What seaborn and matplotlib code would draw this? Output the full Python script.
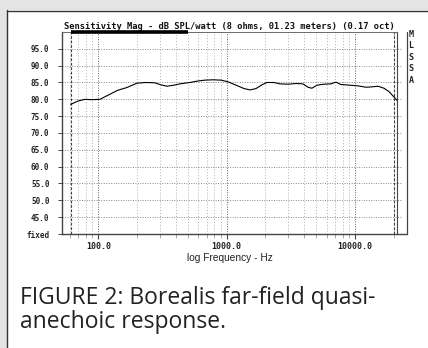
import matplotlib
matplotlib.use("Agg")
import matplotlib.pyplot as plt
from matplotlib.lines import Line2D
from matplotlib.patches import Rectangle
from matplotlib.ticker import FixedLocator, FixedFormatter, NullFormatter
import seaborn as sns
import pandas as pd

# ---- data ----
freq_hz = [61, 69.5, 79, 89, 103, 123, 142, 167, 200, 235, 276, 308, 343, 388, 432,
           517, 586, 677, 781, 906, 1026, 1184, 1366, 1520, 1693, 1880, 2057, 2333,
           2597, 2998, 3459, 3924, 4293, 4611, 5045, 5717, 6484, 7094, 7757, 9117,
           10520, 12142, 13530, 15070, 16780, 18350, 20080, 21180]
spl_db = [78.5, 79.5, 80.0, 79.9, 80.0, 81.5, 82.7, 83.5, 84.8, 85.0, 84.9, 84.3,
          83.9, 84.2, 84.6, 85.0, 85.4, 85.7, 85.8, 85.7, 85.2, 84.2, 83.2, 82.8,
          83.2, 84.3, 85.0, 85.0, 84.6, 84.5, 84.7, 84.6, 83.6, 83.3, 84.2, 84.5,
          84.6, 85.1, 84.4, 84.2, 84.0, 83.6, 83.7, 83.9, 83.3, 82.3, 80.7, 79.7]

y_ticks = [40, 45, 50, 55, 60, 65, 70, 75, 80, 85, 90, 95]
y_tick_labels = ["fixed", "45.0", "50.0", "55.0", "60.0", "65.0", "70.0", "75.0",
                 "80.0", "85.0", "90.0", "95.0"]
x_major = [100, 1000, 10000]
x_major_labels = ["100.0", "1000.0", "10000.0"]
x_minor = [60, 70, 80, 90, 200, 300, 400, 500, 600, 700, 800, 900,
           2000, 3000, 4000, 5000, 6000, 7000, 8000, 9000, 20000]
gate_lines_hz = [61, 20000]
gate_bar_hz = [61, 500]

title = "Sensitivity Mag - dB SPL/watt (8 ohms, 01.23 meters) (0.17 oct)"
xlabel = "log Frequency - Hz"
side_letters = "M\nL\nS\nS\nA"
caption = "FIGURE 2: Borealis far-field quasi-\nanechoic response."

df = pd.DataFrame({"freq": freq_hz, "spl": spl_db})

sns.set_theme(style="white")
plt.rcParams["font.family"] = ["DejaVu Sans Mono"]

W, H = 428, 348
fig = plt.figure(figsize=(W / 100, H / 100), dpi=100, facecolor="#e4e4e4")

def fx(px):
    return px / W

def fy(py):
    return 1 - py / H

# white panel with left/top border
fig.patches.append(Rectangle((fx(7), 0), 1 - fx(7), fy(10), transform=fig.transFigure,
                             facecolor="white", edgecolor="none", zorder=-10))
fig.lines.append(Line2D([fx(7.5), fx(7.5)], [0, fy(10)], transform=fig.transFigure,
                        color="#333333", lw=1.0, zorder=-5))
fig.lines.append(Line2D([fx(7.5), 1], [fy(10.5), fy(10.5)], transform=fig.transFigure,
                        color="#333333", lw=1.0, zorder=-5))

L, R, T, B = 62, 397, 32, 234
ax = fig.add_axes([fx(L), fy(B), fx(R - L), (B - T) / H], zorder=2)
ax.set_facecolor("white")

# grid
xfrac_ext = (402 - L) / (R - L)
for yv in y_ticks[1:]:
    ax.axhline(yv, xmin=0, xmax=xfrac_ext, color="#8a8a8a", lw=0.7,
               ls=(0, (1, 1.5)), clip_on=False, zorder=1)
for xv in x_minor:
    ax.axvline(xv, color="#b0b0b0", lw=0.7, ls=(0, (1, 2)), zorder=1)
for xv in x_major:
    ax.axvline(xv, color="#666666", lw=0.7, ls=(0, (1, 1.5)), zorder=1)
for xv in gate_lines_hz:
    ax.axvline(xv, color="#444444", lw=0.8, ls=(0, (2.5, 1.5)), zorder=1.5)

sns.lineplot(data=df, x="freq", y="spl", ax=ax, color="black", lw=0.8, zorder=3)

ax.set_xscale("log")
ax.set_xlim(52.2, 21200)
ax.set_ylim(40, 100)

ax.plot(gate_bar_hz, [100, 100], color="black", lw=2.6, solid_capstyle="butt",
        clip_on=False, zorder=4)

ax.xaxis.set_major_locator(FixedLocator(x_major))
ax.xaxis.set_major_formatter(FixedFormatter(x_major_labels))
ax.xaxis.set_minor_locator(FixedLocator(x_minor))
ax.xaxis.set_minor_formatter(NullFormatter())
ax.yaxis.set_major_locator(FixedLocator(y_ticks))
ax.yaxis.set_major_formatter(FixedFormatter(y_tick_labels))

ax.tick_params(axis="x", which="major", direction="out", length=3.5, width=0.8,
               color="#444444", pad=2, labelsize=6, bottom=True)
ax.tick_params(axis="x", which="minor", direction="out", length=3, width=0.7,
               color="#aaaaaa", bottom=True)
ax.tick_params(axis="y", which="major", direction="out", length=3, width=0.7,
               color="#444444", pad=6, labelsize=5.5, left=True)
for lab in ax.get_xticklabels() + ax.get_yticklabels():
    lab.set_fontweight("bold")
    lab.set_color("#222222")

for side in ["left", "bottom"]:
    ax.spines[side].set_color("#444444")
    ax.spines[side].set_linewidth(1.0)
ax.spines["top"].set_color("#555555")
ax.spines["top"].set_linewidth(0.6)
ax.spines["right"].set_color("#444444")
ax.spines["right"].set_linewidth(0.8)

ax.set_xlabel(xlabel, family="Liberation Sans", fontsize=7.3, color="#222222",
              labelpad=2)
ax.set_ylabel("")
ax.set_title(title, fontsize=6.3, fontweight="bold", color="#111111", pad=2.5,
             loc="center")

# outer frame on the right with MLSSA column
fig.lines.append(Line2D([fx(406.5), fx(406.5)], [fy(B), fy(T)], transform=fig.transFigure,
                        color="#444444", lw=0.9, zorder=3))
fig.lines.append(Line2D([fx(R), fx(406.5)], [fy(B), fy(B)], transform=fig.transFigure,
                        color="#444444", lw=1.0, zorder=3))
fig.text(fx(411), fy(30), side_letters, ha="center", va="top", fontsize=6,
         fontweight="bold", linespacing=1.35, color="#222222")

fig.text(fx(20), fy(286), caption, ha="left", va="top", family="Open Sans",
         fontsize=16.5, fontweight="normal", color="#222222", linespacing=0.98)

fig.savefig("out.png", dpi=100, facecolor=fig.get_facecolor())
